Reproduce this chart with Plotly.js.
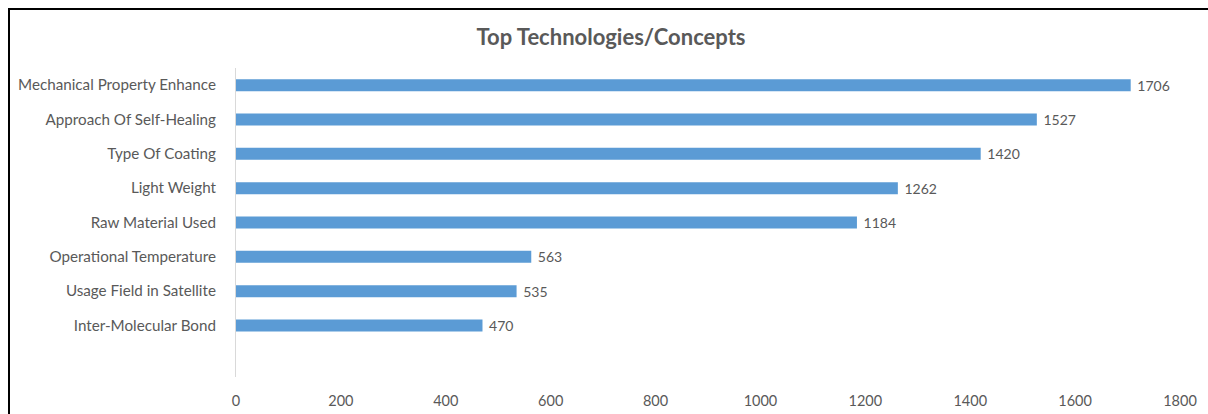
<!DOCTYPE html>
<html>
<head>
<meta charset="utf-8">
<script src="https://cdn.plot.ly/plotly-3.0.1.min.js"></script>
<style>
  html, body { margin: 0; padding: 0; background: #fff; }
  #wrap { position: relative; width: 1208px; height: 414px; overflow: hidden; }
  #chart { position: absolute; left: 0; top: 0; width: 1208px; height: 414px; }
  #frame { position: absolute; left: 8px; top: 8px; width: 1220px; height: 430px;
           border-top: 2px solid #000; border-left: 2px solid #000; pointer-events: none; }
</style>
</head>
<body>
<div id="wrap">
  <div id="chart"></div>
  <div id="frame"></div>
</div>
<script>
const categories = [
  "Mechanical Property Enhance",
  "Approach Of Self-Healing",
  "Type Of Coating",
  "Light Weight",
  "Raw Material Used",
  "Operational Temperature",
  "Usage Field in Satellite",
  "Inter-Molecular Bond"
];
const values = [1706, 1527, 1420, 1262, 1184, 563, 535, 470];
const xTicks = [0, 200, 400, 600, 800, 1000, 1200, 1400, 1600, 1800];

const FONT = "Lato, 'Open Sans', sans-serif";
const GREY = "#595959";

const trace = {
  type: "bar",
  orientation: "h",
  x: values,
  y: categories,
  marker: { color: "#5b9bd5" },
  width: 0.35,
  text: values.map(v => " " + v),
  textposition: "outside",
  constraintext: "none",
  cliponaxis: false,
  textfont: { family: FONT, size: 14, color: GREY },
  hoverinfo: "skip"
};

const layout = {
  width: 1208,
  height: 414,
  margin: { l: 236, r: 28, t: 68, b: 37 },
  paper_bgcolor: "#fff",
  plot_bgcolor: "#fff",
  showlegend: false,
  title: {
    text: "<b>Top Technologies/Concepts</b>",
    x: 611 / 1208, xref: "container", xanchor: "center",
    y: 1 - 37 / 414, yref: "container", yanchor: "middle",
    font: { family: FONT, size: 22, color: GREY }
  },
  xaxis: {
    range: [0, 1800],
    tickvals: xTicks,
    ticktext: xTicks.map(String),
    showgrid: false,
    zeroline: false,
    showline: false,
    ticks: "",
    ticklabelstandoff: 13,
    tickfont: { family: FONT, size: 14.5, color: GREY },
    fixedrange: true
  },
  yaxis: {
    type: "category",
    categoryorder: "array",
    categoryarray: categories,
    range: [8.5, -0.5],
    showgrid: false,
    zeroline: false,
    showline: true,
    linecolor: "#d9d9d9",
    linewidth: 1,
    ticks: "",
    ticklabelstandoff: 16,
    tickfont: { family: FONT, size: 15.2, color: GREY },
    fixedrange: true
  },
  bargap: 0.65
};

Plotly.newPlot("chart", [trace], layout, { displayModeBar: false, staticPlot: true });
</script>
</body>
</html>
